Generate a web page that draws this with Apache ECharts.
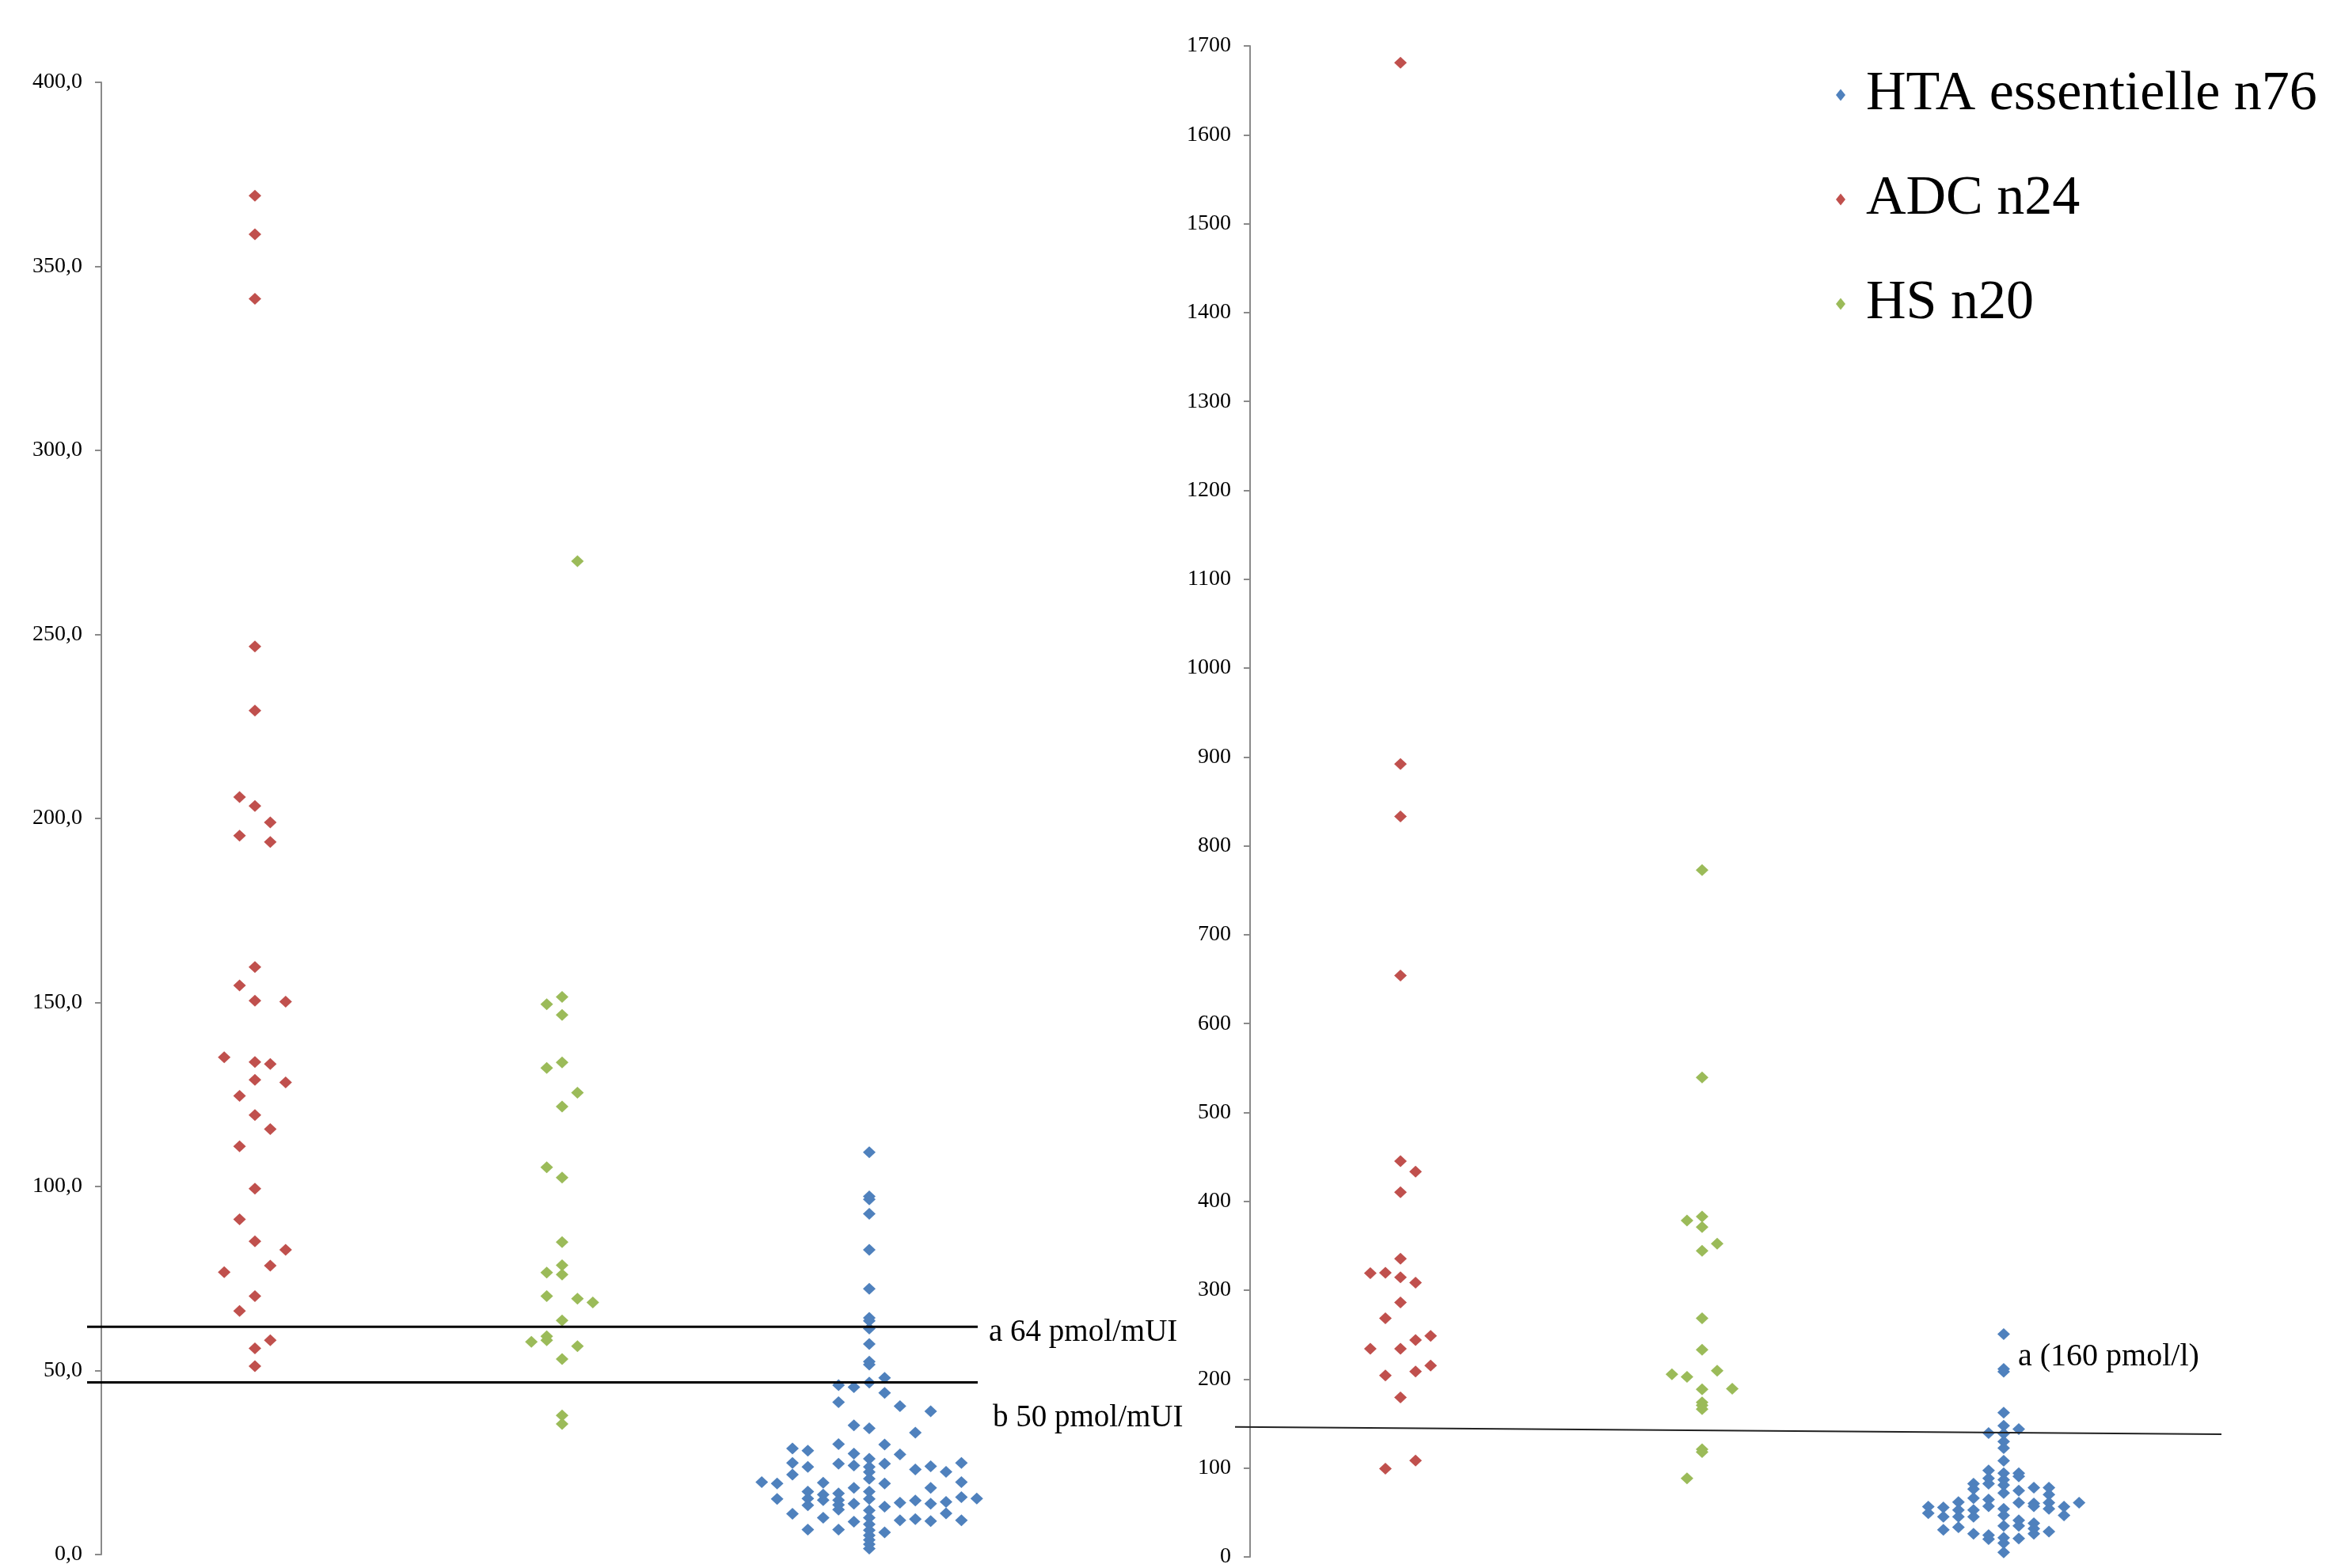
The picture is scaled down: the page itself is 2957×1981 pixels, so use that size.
<!DOCTYPE html>
<html>
<head>
<meta charset="utf-8">
<script src="https://cdn.jsdelivr.net/npm/echarts@6/dist/echarts.min.js"></script>
<style>
html,body{margin:0;padding:0;background:#fff;}
#chart{width:2957px;height:1981px;}
</style>
</head>
<body>
<div id="chart"></div>
<script>
// ---------- DATA ----------
// Each point: [jitter slot, value]; group centre x = 1 (ADC), 2 (HS), 3 (HTA)
var seriesNames = ['HTA essentielle n76', 'ADC n24', 'HS n20'];

// Left chart (pmol/mUI)
var leftADC = [[0,369.2],[0,358.7],[0,341.2],[0,246.7],[0,229.3],[-1,205.8],[0,203.4],[1,198.9],[-1,195.3],[1,193.6],[0,159.6],[-1,154.6],[0,150.5],[2,150.2],[-2,135.1],[0,133.8],[1,133.3],[0,129.0],[2,128.3],[-1,124.6],[0,119.4],[1,115.6],[-1,110.9],[0,99.4],[-1,91.1],[0,85.1],[2,82.8],[1,78.5],[-2,76.7],[0,70.2],[-1,66.2],[1,58.2],[0,56.0],[0,51.2]];
var leftHS = [[1,269.9],[0,151.5],[-1,149.5],[0,146.6],[0,133.7],[-1,132.2],[1,125.5],[0,121.7],[-1,105.2],[0,102.4],[0,84.9],[0,78.6],[-1,76.6],[0,76.1],[-1,70.2],[1,69.5],[2,68.5],[0,63.6],[-2,57.8],[-1,59.3],[-1,58.2],[1,56.6],[0,53.1],[0,37.8],[0,35.5]];
var leftHTA = [[0,109.3],[0,97.3],[0,96.5],[0,92.6],[0,82.8],[0,72.2],[0,64.3],[0,63.5],[0,61.4],[0,57.2],
  [0,52.4],[0,51.6],[1,48.0],[-2,46.0],[-1,45.5],[0,46.7],[1,43.9],[-2,41.4],[2,40.3],[4,38.9],[-1,35.1],[0,34.3],[3,33.1],
  [-5,28.8],[-4,28.2],[-2,30.0],[1,29.9],[-1,27.4],[2,27.2],[-5,24.9],[-4,23.8],[-2,24.7],[-1,24.2],[0,26.0],[0,23.8],[0,22.4],[0,20.6],
  [1,24.7],[3,23.1],[4,24.0],[5,22.5],[6,24.9],[-5,21.7],[-7,19.7],[-6,19.3],[-3,19.5],[6,19.7],[1,19.3],[-1,18.1],[4,18.1],
  [-4,17.1],[-3,16.3],[-2,16.6],[0,17.1],[-6,15.1],[-4,15.2],[-3,14.8],[-2,14.8],[0,15.1],[6,15.6],[7,15.2],[-4,13.4],[-2,13.5],
  [-1,13.8],[2,14.1],[3,14.7],[4,13.8],[5,14.3],[1,13.0],[-2,12.2],[0,12.0],[-5,11.1],[5,11.2],[-3,10.0],[0,10.0],[2,9.3],[3,9.6],
  [4,9.1],[6,9.3],[-1,8.9],[0,8.2],[0,6.6],[0,5.2],[0,4.0],[0,2.8],[0,1.6],[-4,6.8],[-2,6.8],[1,6.0]];

// Right chart (pmol/l)
var rightADC = [[0,1681],[0,892],[0,833],[0,654],[0,445.3],[1,433.4],[0,410.3],[0,335.5],[-2,319.2],[-1,319.8],[0,314.5],[1,308.5],[0,286.2],[-1,268.4],[-2,234.3],[0,234.3],[1,244.1],[2,248.6],[-1,204.1],[1,208.5],[2,215.3],[0,179.4],[-1,99.3],[1,108.4]];
var rightHS = [[0,772.8],[0,539.4],[-1,378.5],[0,383],[0,371.1],[1,352.4],[0,344.4],[0,268.4],[0,233.1],[-2,205.5],[-1,202.5],[1,209.4],[0,188.6],[2,189.2],[0,173.8],[0,170.5],[0,166.3],[0,121],[0,118],[-1,88.3]];
var rightHTA = [[0,250.6],[0,211.5],[0,208.3],[0,162.2],[-1,139.3],[0,147.6],[0,138.7],[0,129.8],[0,122.4],[1,143.8],[0,108.2],[-1,97.3],[-1,88.4],[-1,82.4],
  [0,94.2],[0,86.8],[0,80.8],[0,71.9],[1,94.2],[1,90.5],[-2,82.4],[-2,76.4],[-2,66.1],[-3,61.6],[-3,52.7],[-3,45.2],[-3,33.4],[-2,52.7],[-2,45.2],
  [-1,64.5],[-1,57.1],[0,54.1],[0,46.7],[0,34.9],[0,21.5],[0,15.6],[0,5.2],[1,74.5],[1,61.1],[1,41.2],[1,34.9],[1,20.6],[2,77.9],[2,60.1],[2,57.1],
  [2,37.8],[2,31.9],[2,26.0],[3,77.9],[3,70.2],[3,61.1],[3,54.1],[3,28.5],[4,56.5],[4,46.7],[5,61.1],[-5,56.5],[-5,49.1],[-4,55.6],[-4,45.2],[-4,30.4],
  [-2,26.0],[-1,24.5],[-1,20.0]];

// Reference lines: value at start / end
var leftLineA = [61.9, 61.9];
var leftLineB = [46.8, 46.8];
var rightLineA = [146.2, 138.0];
var annotations = ['a 64 pmol/mUI', 'b 50 pmol/mUI', 'a (160 pmol/l)'];

var leftTicks = {min: 0, max: 400, interval: 50};
var rightTicks = {min: 0, max: 1700, interval: 100};

// x extents of each panel (reference lines run across the whole panel)
var leftX = [0.4536, 3.3531];
var rightX = [0.4514, 3.722];

// ---------- BUILD ----------
var COL = {hta: '#4F81BD', adc: '#C0504D', hs: '#9BBB59'};
var JIT = 0.05;
function pts(arr, centre) { return arr.map(function (p) { return [centre + p[0] * JIT, p[1]]; }); }

var FONT = '"Liberation Serif", "DejaVu Serif", serif';

function yAxisCfg(gi, t, fmt, off) {
  return {
    type: 'value', gridIndex: gi, min: t.min, max: t.max, interval: t.interval,
    offset: off,
    axisLine: {show: true, onZero: false, lineStyle: {color: '#8a8a8a', width: 2}},
    axisTick: {show: true, length: 8, lineStyle: {color: '#8a8a8a', width: 2}},
    splitLine: {show: false},
    axisLabel: {color: '#000', fontFamily: FONT, fontSize: 28, margin: 24, formatter: fmt}
  };
}
function xAxisCfg(gi, ext) {
  return {type: 'value', gridIndex: gi, min: ext[0], max: ext[1], show: false};
}
function scatter(name, data, color, gi) {
  return {
    type: 'scatter', name: name, xAxisIndex: gi, yAxisIndex: gi, data: data,
    symbol: 'diamond', symbolSize: [16, 15], clip: false,
    itemStyle: {color: color, opacity: 1}, silent: true, z: 3
  };
}
function refLine(gi, ext, vals, width, color) {
  return {
    type: 'line', xAxisIndex: gi, yAxisIndex: gi, clip: false, silent: true,
    symbol: 'none', data: [[ext[0], vals[0]], [ext[1], vals[1]]],
    lineStyle: {color: color, width: width}, z: 4
  };
}

var option = {
  backgroundColor: '#fff',
  animation: false,
  grid: [
    {left: 110, top: 104, width: 1125, height: 1860},
    {left: 1560, top: 58, width: 1246, height: 1910}
  ],
  xAxis: [xAxisCfg(0, leftX), xAxisCfg(1, rightX)],
  yAxis: [
    yAxisCfg(0, leftTicks, function (v) { return v.toFixed(1).replace('.', ','); }, -18),
    yAxisCfg(1, rightTicks, function (v) { return String(v); }, -19)
  ],
  legend: {
    data: seriesNames,
    orient: 'vertical',
    left: 2314, top: 80,
    itemWidth: 12, itemHeight: 15,
    itemGap: 62,
    icon: 'diamond',
    textStyle: {fontFamily: FONT, fontSize: 70, color: '#000', padding: [0, 0, 0, 21]},
    selectedMode: false
  },
  series: [
    scatter(seriesNames[0], pts(leftHTA, 3), COL.hta, 0),
    scatter(seriesNames[1], pts(leftADC, 1), COL.adc, 0),
    scatter(seriesNames[2], pts(leftHS, 2), COL.hs, 0),
    scatter(seriesNames[0], pts(rightHTA, 3), COL.hta, 1),
    scatter(seriesNames[1], pts(rightADC, 1), COL.adc, 1),
    scatter(seriesNames[2], pts(rightHS, 2), COL.hs, 1),
    refLine(0, leftX, leftLineA, 3, '#000'),
    refLine(0, leftX, leftLineB, 3, '#000'),
    refLine(1, rightX, rightLineA, 2, '#222')
  ],
  graphic: [
    {type: 'text', left: 1249, top: 1664, style: {text: annotations[0], font: '39px ' + FONT, fill: '#000'}},
    {type: 'text', left: 1254, top: 1772, style: {text: annotations[1], font: '39px ' + FONT, fill: '#000'}},
    {type: 'text', left: 2549, top: 1694, style: {text: annotations[2], font: '40px ' + FONT, fill: '#000'}}
  ]
};

var chart = echarts.init(document.getElementById('chart'), null, {renderer: 'canvas'});
chart.setOption(option);
</script>
</body>
</html>
